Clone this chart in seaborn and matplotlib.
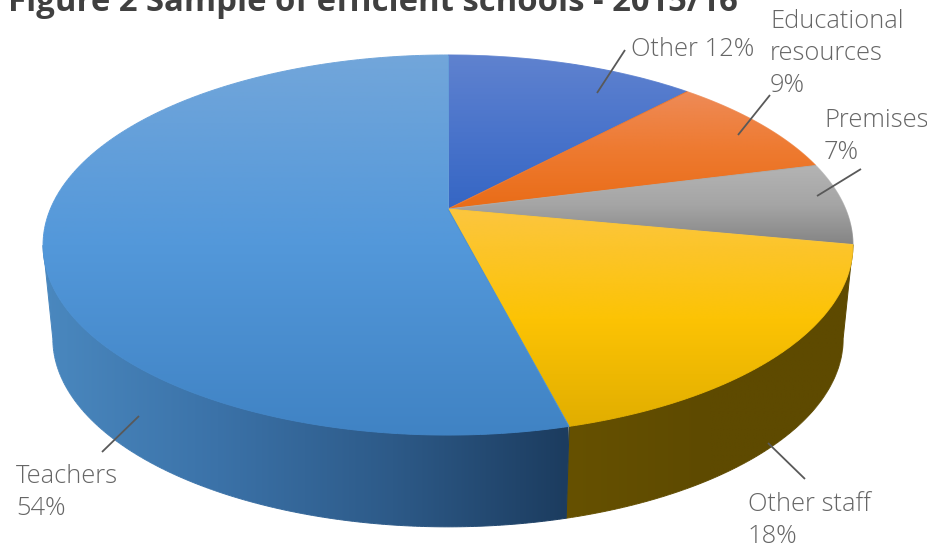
import numpy as np
import matplotlib
matplotlib.use("Agg")
import matplotlib.pyplot as plt
from matplotlib.collections import LineCollection
from matplotlib.patches import Polygon
import seaborn as sns

# Spending shares, clockwise from twelve o'clock
categories = ["Other", "Educational\nresources", "Premises", "Other staff", "Teachers"]
shares = [12, 9, 7, 18, 54]
title_text = "Figure 2 Sample of efficient schools - 2015/16"

sns.set_theme(style="white")
plt.rcParams["font.family"] = ["Open Sans", "DejaVu Sans"]

TOP_RAMPS = [
    ["#5f82cf", "#4a74cb", "#3566c4"],
    ["#ee8b58", "#ee7a30", "#e96c17"],
    ["#b4b4b4", "#a5a5a5", "#848484"],
    ["#fcc63f", "#fcc304", "#e0ad00"],
    ["#72a6da", "#5398da", "#4083c4"],
]
SIDE_RAMPS = {
    3: ["#665100", "#5e4a00", "#5e4a00"],
    4: ["#4a88bf", "#3b72a8", "#2d5a88", "#1c3c5f"],
}


def disc_point(theta, cx, apex_y, half_w, a, c=0.1895):
    """Perspective projection of a rim point onto the page."""
    u, v = np.sin(theta), np.cos(theta)
    d = c * v + 1
    return cx + half_w * u / d, (a * v + apex_y) / d


def top_rim(theta):
    return disc_point(theta, 448, 209, 397.6, -143.6)


def bottom_rim(theta):
    return disc_point(theta, 448, 303, 388.0, -124.0)


def shaded(ax, verts, ramp, vertical, span, z):
    """Fill a polygon with a linear ramp and smooth its edge with a thin line."""
    cmap = sns.blend_palette(ramp, n_colors=256, as_cmap=True)
    lo, hi = span
    grad = np.linspace(0, 1, 256)
    img = grad[:, None] if vertical else grad[None, :]
    x0, x1 = verts[:, 0].min() - 2, verts[:, 0].max() + 2
    y0, y1 = verts[:, 1].min() - 2, verts[:, 1].max() + 2
    extent = (x0, x1, hi, lo) if vertical else (lo, hi, y1, y0)
    im = ax.imshow(img, cmap=cmap, extent=extent, aspect="auto", vmin=0, vmax=1,
                   interpolation="bilinear", zorder=z)
    im.set_clip_path(Polygon(verts, closed=True, transform=ax.transData))
    closed = np.vstack([verts, verts[:1]])
    segs = np.stack([closed[:-1], closed[1:]], axis=1)
    pos = (segs[:, :, 1 if vertical else 0].mean(axis=1) - lo) / (hi - lo)
    ax.add_collection(LineCollection(segs, colors=cmap(np.clip(pos, 0, 1)),
                                     linewidths=0.7, zorder=z + 0.1))


fig = plt.figure(figsize=(9.28, 5.45), dpi=100)
ax = fig.add_axes([0, 0, 1, 1])

edges = np.radians(np.cumsum([0] + shares) * 3.6)

# Outer wall: only the front part shows, up to the disc's left extreme
wall_stop = np.radians(259)
wall_spans = {3: (565, 853), 4: (43, 568)}
for i, ramp in SIDE_RAMPS.items():
    t = np.linspace(edges[i], min(edges[i + 1], wall_stop), 200)
    tx, ty = top_rim(t)
    bx, by = bottom_rim(t)
    verts = np.column_stack([np.r_[tx, bx[::-1]], np.r_[ty, by[::-1]]])
    shaded(ax, verts, ramp, False, wall_spans[i], 2 + i)

# Upper face, one wedge per share
spans = [(55, 209), (90, 209), (165, 245), (209, 430), (55, 435)]
for i, (start, stop) in enumerate(zip(edges[:-1], edges[1:])):
    t = np.linspace(start, stop, 240)
    rx, ry = top_rim(t)
    verts = np.column_stack([np.r_[448, rx], np.r_[209, ry]])
    shaded(ax, verts, TOP_RAMPS[i], True, spans[i], 10 + i)

# Leader lines from wedges to their labels
leaders = [
    ((597, 93), (625, 50)),
    ((738, 135), (770, 95)),
    ((817, 196), (861, 169)),
    ((768, 443), (805, 479)),
    ((139, 416), (102, 452)),
]
for (x0, y0), (x1, y1) in leaders:
    ax.plot([x0, x1], [y0, y1], color="#595959", lw=1.3, zorder=50,
            solid_capstyle="butt")

# Labels, with the share on its own line except for the short "Other" entry
label_anchor = [(631, 56), (770, 28), (824, 127), (748, 511), (16, 483)]
for i, (name, share) in enumerate(zip(categories, shares)):
    sep = " " if name == "Other" else "\n"
    for j, line in enumerate(f"{name}{sep}{share}%".split("\n")):
        ax.text(label_anchor[i][0], label_anchor[i][1] + j * 32, line,
                color="#666666", fontsize=18.4, fontweight=300,
                va="baseline", zorder=60)

ax.text(8, 11, title_text, color="#404040", fontsize=23.7, fontweight="bold",
        va="baseline", zorder=60)

ax.set_xlim(0, 928)
ax.set_ylim(545, 0)
ax.axis("off")
fig.savefig("out.png", dpi=100, facecolor="white")
